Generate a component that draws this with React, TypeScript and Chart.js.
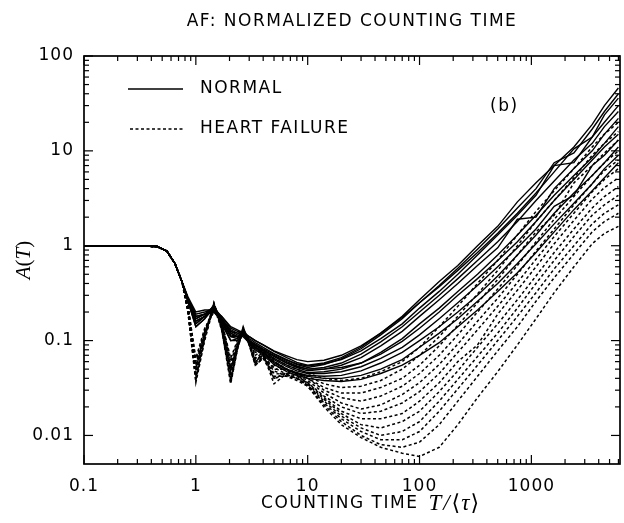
import React, { useEffect, useRef } from "react";
import { Chart, registerables } from "chart.js";
Chart.register(...registerables);

// Counting time T/<tau> sample points
const TIME = [0.1, 0.3, 0.45, 0.55, 0.65, 0.75, 0.85, 1.0, 1.2, 1.45, 1.7, 2.05, 2.35, 2.65, 3.0, 3.4, 4.0, 5.0, 6.5, 8, 10, 14, 20, 30, 45, 70, 100, 150, 220, 330, 500, 750, 1100, 1600, 2400, 3500, 4500, 6000];

const X_MAJOR = [0.1, 1, 10, 100, 1000];
const X_LABELS = ["0.1", "1", "10", "100", "1000"];
const Y_MAJOR = [0.01, 0.1, 1, 10, 100];
const Y_LABELS = ["0.01", "0.1", "1", "10", "100"];

// shared plateau / fall-off (T = 0.1 .. 0.75)
const HEAD = [1, 1, 0.98, 0.88, 0.65, 0.42];

// NORMAL: T = 0.85 .. 8
const NORMAL_EARLY = [
  [0.28, 0.19, 0.2, 0.22, 0.18, 0.135, 0.125, 0.125, 0.11, 0.1, 0.09, 0.077, 0.066, 0.059],
  [0.27, 0.17, 0.19, 0.23, 0.17, 0.125, 0.12, 0.125, 0.105, 0.095, 0.085, 0.073, 0.063, 0.056],
  [0.29, 0.2, 0.21, 0.21, 0.18, 0.14, 0.13, 0.12, 0.11, 0.1, 0.09, 0.078, 0.069, 0.063],
  [0.27, 0.16, 0.18, 0.22, 0.17, 0.12, 0.11, 0.12, 0.1, 0.092, 0.082, 0.072, 0.062, 0.057],
  [0.26, 0.15, 0.18, 0.23, 0.16, 0.11, 0.11, 0.125, 0.1, 0.088, 0.08, 0.068, 0.058, 0.053],
  [0.28, 0.18, 0.19, 0.2, 0.17, 0.13, 0.12, 0.115, 0.1, 0.09, 0.08, 0.068, 0.058, 0.052],
  [0.26, 0.14, 0.17, 0.24, 0.16, 0.1, 0.105, 0.13, 0.1, 0.085, 0.078, 0.065, 0.055, 0.05],
  [0.27, 0.17, 0.19, 0.21, 0.17, 0.125, 0.115, 0.115, 0.1, 0.09, 0.08, 0.07, 0.06, 0.054],
  [0.26, 0.15, 0.18, 0.22, 0.16, 0.11, 0.105, 0.12, 0.095, 0.085, 0.075, 0.063, 0.053, 0.048],
  [0.27, 0.16, 0.18, 0.21, 0.16, 0.115, 0.11, 0.115, 0.095, 0.085, 0.074, 0.06, 0.05, 0.046],
  [0.28, 0.18, 0.19, 0.2, 0.165, 0.12, 0.11, 0.11, 0.095, 0.083, 0.072, 0.058, 0.049, 0.045],
  [0.26, 0.14, 0.17, 0.22, 0.15, 0.1, 0.1, 0.12, 0.092, 0.08, 0.07, 0.056, 0.047, 0.043],
];
// NORMAL: T = 10 .. 6000
const NORMAL_LATE = [
  [0.055, 0.058, 0.066, 0.085, 0.12, 0.18, 0.27, 0.42, 0.62, 1.0, 1.6, 2.9, 4.6, 7.0, 11, 19, 30, 46],
  [0.052, 0.056, 0.064, 0.082, 0.115, 0.17, 0.25, 0.38, 0.58, 0.92, 1.5, 2.5, 4.0, 7.5, 9.5, 17, 26, 40],
  [0.06, 0.062, 0.07, 0.088, 0.12, 0.175, 0.25, 0.37, 0.55, 0.85, 1.35, 2.2, 3.6, 6.0, 10.5, 14, 24, 36],
  [0.054, 0.057, 0.063, 0.078, 0.105, 0.15, 0.22, 0.33, 0.5, 0.8, 1.3, 2.1, 3.4, 7.0, 7.5, 14, 20, 30],
  [0.05, 0.052, 0.058, 0.072, 0.097, 0.14, 0.2, 0.3, 0.45, 0.7, 1.1, 1.8, 3.0, 4.8, 8, 12, 18, 26],
  [0.048, 0.05, 0.055, 0.066, 0.088, 0.125, 0.18, 0.27, 0.4, 0.62, 0.95, 1.9, 2.0, 4.0, 6.5, 10, 15, 22],
  [0.046, 0.047, 0.05, 0.058, 0.075, 0.105, 0.15, 0.22, 0.33, 0.5, 0.8, 1.3, 2.1, 3.4, 5.5, 8.5, 12, 18],
  [0.05, 0.05, 0.052, 0.058, 0.072, 0.098, 0.135, 0.2, 0.3, 0.45, 0.7, 1.1, 1.8, 3.0, 5, 8, 11, 15],
  [0.045, 0.045, 0.047, 0.053, 0.065, 0.085, 0.115, 0.17, 0.25, 0.38, 0.6, 0.95, 1.5, 2.6, 3.4, 7, 9, 13],
  [0.043, 0.042, 0.043, 0.048, 0.058, 0.075, 0.1, 0.14, 0.2, 0.3, 0.48, 0.8, 1.3, 2.2, 3.6, 5.5, 7.5, 11],
  [0.042, 0.04, 0.04, 0.043, 0.05, 0.063, 0.085, 0.12, 0.17, 0.26, 0.4, 0.65, 1.05, 1.7, 2.8, 4.5, 6.5, 9],
  [0.04, 0.038, 0.037, 0.039, 0.045, 0.055, 0.07, 0.095, 0.14, 0.21, 0.33, 0.52, 0.85, 1.4, 2.4, 3.8, 5.2, 7.5],
];

// HEART FAILURE: T = 0.85 .. 8
const HF_EARLY = [
  [0.24, 0.06, 0.13, 0.22, 0.16, 0.06, 0.095, 0.125, 0.1, 0.075, 0.08, 0.065, 0.055, 0.05],
  [0.22, 0.045, 0.12, 0.24, 0.15, 0.045, 0.09, 0.13, 0.1, 0.065, 0.075, 0.06, 0.05, 0.046],
  [0.21, 0.04, 0.11, 0.25, 0.14, 0.04, 0.085, 0.14, 0.095, 0.06, 0.07, 0.05, 0.05, 0.045],
  [0.23, 0.055, 0.125, 0.21, 0.16, 0.055, 0.09, 0.12, 0.1, 0.07, 0.08, 0.055, 0.048, 0.045],
  [0.2, 0.036, 0.1, 0.23, 0.13, 0.035, 0.08, 0.135, 0.09, 0.055, 0.065, 0.04, 0.046, 0.043],
  [0.22, 0.05, 0.12, 0.22, 0.15, 0.05, 0.088, 0.12, 0.095, 0.06, 0.072, 0.035, 0.045, 0.042],
  [0.21, 0.042, 0.11, 0.24, 0.14, 0.042, 0.084, 0.13, 0.092, 0.058, 0.068, 0.045, 0.044, 0.04],
  [0.23, 0.065, 0.135, 0.2, 0.16, 0.065, 0.1, 0.115, 0.1, 0.078, 0.075, 0.06, 0.05, 0.044],
  [0.2, 0.038, 0.105, 0.25, 0.13, 0.038, 0.082, 0.14, 0.09, 0.055, 0.065, 0.048, 0.042, 0.04],
  [0.22, 0.048, 0.12, 0.23, 0.15, 0.048, 0.088, 0.125, 0.095, 0.063, 0.07, 0.04, 0.043, 0.04],
  [0.21, 0.04, 0.11, 0.24, 0.14, 0.036, 0.08, 0.13, 0.09, 0.057, 0.066, 0.052, 0.044, 0.04],
  [0.22, 0.052, 0.12, 0.22, 0.15, 0.05, 0.09, 0.12, 0.095, 0.065, 0.07, 0.042, 0.042, 0.038],
];
// HEART FAILURE: T = 10 .. 6000
const HF_LATE = [
  [0.045, 0.04, 0.038, 0.04, 0.047, 0.06, 0.085, 0.14, 0.23, 0.4, 0.7, 1.3, 2.3, 3.8, 6.5, 11, 15, 20],
  [0.042, 0.035, 0.032, 0.033, 0.038, 0.05, 0.07, 0.11, 0.18, 0.31, 0.55, 1.0, 1.8, 3.0, 5.2, 9, 12, 16],
  [0.04, 0.032, 0.028, 0.028, 0.032, 0.04, 0.055, 0.088, 0.145, 0.25, 0.44, 0.8, 1.4, 2.1, 4.6, 7, 9.5, 13],
  [0.04, 0.03, 0.025, 0.023, 0.026, 0.033, 0.045, 0.07, 0.115, 0.2, 0.35, 0.62, 1.1, 1.9, 3.3, 5.5, 7.5, 10],
  [0.038, 0.028, 0.022, 0.019, 0.021, 0.027, 0.036, 0.056, 0.092, 0.16, 0.28, 0.5, 0.88, 1.5, 2.7, 4.5, 6.2, 8],
  [0.036, 0.026, 0.02, 0.017, 0.018, 0.022, 0.029, 0.045, 0.075, 0.13, 0.23, 0.41, 0.72, 1.25, 2.2, 3.7, 5, 6.5],
  [0.036, 0.025, 0.018, 0.015, 0.015, 0.017, 0.023, 0.036, 0.06, 0.09, 0.19, 0.34, 0.6, 1.05, 1.85, 3.1, 4.1, 5.2],
  [0.035, 0.024, 0.017, 0.013, 0.012, 0.014, 0.018, 0.029, 0.048, 0.085, 0.15, 0.27, 0.48, 0.85, 1.5, 2.5, 3.3, 4.2],
  [0.034, 0.023, 0.016, 0.012, 0.01, 0.011, 0.014, 0.023, 0.039, 0.068, 0.12, 0.22, 0.4, 0.7, 1.25, 2.1, 2.7, 3.4],
  [0.034, 0.022, 0.015, 0.011, 0.009, 0.009, 0.011, 0.018, 0.031, 0.055, 0.1, 0.18, 0.32, 0.57, 1.0, 1.7, 2.2, 2.7],
  [0.033, 0.021, 0.014, 0.01, 0.008, 0.0075, 0.0085, 0.013, 0.023, 0.042, 0.078, 0.14, 0.26, 0.46, 0.82, 1.4, 1.8, 2.2],
  [0.033, 0.02, 0.013, 0.0095, 0.0075, 0.0065, 0.006, 0.0075, 0.013, 0.025, 0.047, 0.09, 0.17, 0.32, 0.6, 1.05, 1.35, 1.6],
];

const TITLE = "AF: NORMALIZED COUNTING TIME";
const LEGEND_NORMAL = "NORMAL";
const LEGEND_HF = "HEART FAILURE";
const PANEL = "(b)";

const SANS = "'DejaVu Sans', sans-serif";
const SERIF = "'Liberation Serif', 'DejaVu Serif', serif";

type Seg = { t: string; f: string; ls?: string; gap?: number };

function drawSegs(ctx: CanvasRenderingContext2D, segs: Seg[], cx: number, cy: number) {
  let total = 0;
  const widths = segs.map((s) => {
    ctx.font = s.f;
    (ctx as any).letterSpacing = s.ls || "0px";
    const w = ctx.measureText(s.t).width + (s.gap || 0);
    total += w;
    return w;
  });
  let x = cx - total / 2;
  ctx.textBaseline = "middle";
  ctx.textAlign = "left";
  segs.forEach((s, i) => {
    ctx.font = s.f;
    (ctx as any).letterSpacing = s.ls || "0px";
    ctx.fillText(s.t, x, cy);
    x += widths[i];
  });
  (ctx as any).letterSpacing = "0px";
}

const decor = {
  id: "decor",
  beforeDraw(chart: any) {
    chart.ctx.letterSpacing = "1px";
  },
  afterDraw(chart: any) {
    const ctx: CanvasRenderingContext2D = chart.ctx;
    const { left, right, top, bottom } = chart.chartArea;
    const xs = chart.scales.x;
    const ys = chart.scales.y;
    ctx.save();
    ctx.strokeStyle = "#000";
    ctx.fillStyle = "#000";
    ctx.lineWidth = 1.7;
    ctx.strokeRect(left, top, right - left, bottom - top);
    ctx.lineWidth = 1.2;
    const seg = (a: number, b: number, c: number, d: number) => {
      ctx.beginPath();
      ctx.moveTo(a, b);
      ctx.lineTo(c, d);
      ctx.stroke();
    };
    for (let e = -2; e <= 4; e++) {
      for (let m = 1; m < 10; m++) {
        const v = m * Math.pow(10, e);
        const len = m === 1 ? 9 : 5;
        if (v >= xs.min * 0.999 && v <= xs.max * 1.001) {
          const px = xs.getPixelForValue(v);
          seg(px, bottom, px, bottom - len);
          seg(px, top, px, top + len);
        }
        if (v >= ys.min * 0.999 && v <= ys.max * 1.001) {
          const py = ys.getPixelForValue(v);
          seg(left, py, left + len, py);
          seg(right, py, right - len, py);
        }
      }
    }
    // title
    drawSegs(ctx, [{ t: TITLE, f: `17px ${SANS}`, ls: "1.5px" }], (left + right) / 2, 22);
    // legend
    ctx.lineWidth = 1.4;
    ctx.setLineDash([]);
    seg(128, 89, 183, 89);
    ctx.setLineDash([3, 2.5]);
    seg(130, 129, 185, 129);
    ctx.setLineDash([]);
    ctx.font = `17px ${SANS}`;
    (ctx as any).letterSpacing = "1.5px";
    ctx.textAlign = "left";
    ctx.textBaseline = "middle";
    ctx.fillText(LEGEND_NORMAL, 200, 89);
    ctx.fillText(LEGEND_HF, 200, 129);
    ctx.fillText(PANEL, 490, 107);
    (ctx as any).letterSpacing = "0px";
    // x axis title
    drawSegs(
      ctx,
      [
        { t: "COUNTING TIME", f: `17px ${SANS}`, ls: "1.5px", gap: 10 },
        { t: "T", f: `italic 23px ${SERIF}`, gap: 2 },
        { t: "/", f: `italic 23px ${SERIF}`, gap: 2 },
        { t: "\u27E8", f: `22px 'DejaVu Serif', serif`, gap: 1 },
        { t: "\u03C4", f: `italic 23px ${SERIF}`, gap: 1 },
        { t: "\u27E9", f: `22px 'DejaVu Serif', serif` },
      ],
      370,
      504
    );
    // y axis title
    ctx.save();
    ctx.translate(24, (top + bottom) / 2);
    ctx.rotate(-Math.PI / 2);
    drawSegs(
      ctx,
      [
        { t: "A", f: `italic 21px ${SERIF}` },
        { t: "(", f: `21px ${SERIF}` },
        { t: "T", f: `italic 21px ${SERIF}` },
        { t: ")", f: `21px ${SERIF}` },
      ],
      0,
      0
    );
    ctx.restore();
    ctx.restore();
  },
};

export default function App() {
  const ref = useRef<HTMLCanvasElement>(null);
  useEffect(() => {
    if (!ref.current) return;
    const mk = (head: number[], early: number[], late: number[]) =>
      [...head, ...early, ...late].map((y, i) => ({ x: TIME[i], y }));
    const datasets: any[] = [];
    NORMAL_EARLY.forEach((e, i) => {
      datasets.push({
        label: LEGEND_NORMAL,
        data: mk(HEAD, e, NORMAL_LATE[i]),
        borderColor: "#000",
        borderWidth: 1.4,
        pointRadius: 0,
        fill: false,
        tension: 0,
      });
    });
    HF_EARLY.forEach((e, i) => {
      datasets.push({
        label: LEGEND_HF,
        data: mk(HEAD, e, HF_LATE[i]),
        borderColor: "#000",
        borderWidth: 1.5,
        borderDash: [3, 2.5],
        pointRadius: 0,
        fill: false,
        tension: 0,
      });
    });
    const chart = new Chart(ref.current, {
      type: "line",
      data: { datasets },
      plugins: [decor],
      options: {
        animation: false,
        responsive: false,
        maintainAspectRatio: false,
        layout: { padding: { top: 56, right: 4, left: 0, bottom: 0 } },
        plugins: { legend: { display: false }, tooltip: { enabled: false }, title: { display: false } },
        scales: {
          x: {
            type: "logarithmic",
            min: 0.1,
            max: 6200,
            grid: { display: false, drawTicks: false },
            border: { display: false },
            afterBuildTicks: (s: any) => {
              s.ticks = X_MAJOR.map((v) => ({ value: v }));
            },
            afterFit: (s: any) => {
              s.height = 59;
            },
            ticks: {
              autoSkip: false,
              maxRotation: 0,
              padding: 12,
              color: "#000",
              font: { family: "DejaVu Sans", size: 17 },
              callback: (v: any, i: number) => X_LABELS[i],
            },
          },
          y: {
            type: "logarithmic",
            min: 0.005,
            max: 100,
            grid: { display: false, drawTicks: false },
            border: { display: false },
            afterBuildTicks: (s: any) => {
              s.ticks = Y_MAJOR.map((v) => ({ value: v }));
            },
            afterFit: (s: any) => {
              s.width = 84;
            },
            ticks: {
              autoSkip: false,
              padding: 10,
              color: "#000",
              font: { family: "DejaVu Sans", size: 17 },
              callback: (v: any, i: number) => Y_LABELS[i],
            },
          },
        },
      },
    });
    return () => chart.destroy();
  }, []);
  return (
    <div style={{ position: "absolute", left: 0, top: 0, width: 624, height: 523, background: "#fff" }}>
      <canvas ref={ref} width={624} height={523} style={{ width: 624, height: 523, display: "block" }} />
    </div>
  );
}
